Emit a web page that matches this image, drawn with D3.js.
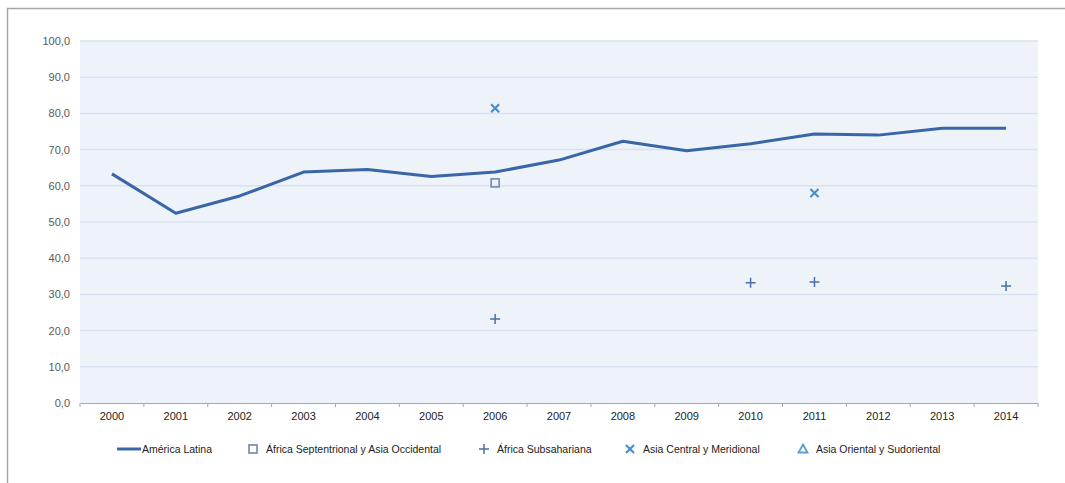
<!DOCTYPE html>
<html>
<head>
<meta charset="utf-8">
<script src="https://cdn.jsdelivr.net/npm/d3@7"></script>
<style>
  body { margin: 0; background: #fff; }
  svg text { font-family: "Liberation Sans", Arial, sans-serif; }
</style>
</head>
<body>
<div id="chart"></div>
<script>
//Datos
const years = ['2000','2001','2002','2003','2004','2005','2006','2007','2008','2009','2010','2011','2012','2013','2014'];
const americaLatina = [63.3, 52.4, 57.2, 63.8, 64.5, 62.6, 63.8, 67.1, 72.3, 69.7, 71.6, 74.3, 74.0, 75.9, 75.9];
const africaSeptentrional = [{year: '2006', value: 60.8}];
const africaSubsahariana = [{year: '2006', value: 23.2}, {year: '2010', value: 33.2}, {year: '2011', value: 33.4}, {year: '2014', value: 32.3}];
const asiaCentral = [{year: '2006', value: 81.4}, {year: '2011', value: 58.0}];
const asiaOriental = [];
const yTicks = [0, 10, 20, 30, 40, 50, 60, 70, 80, 90, 100];
const seriesNames = ['América Latina', 'África Septentrional y Asia Occidental', 'África Subsahariana', 'Asia Central y Meridional', 'Asia Oriental y Sudoriental'];

//Colores
const COLOR_LINE = '#3A66A7',
COLOR_SQUARE = '#7E93B5',
COLOR_PLUS = '#4A70AA',
COLOR_X = '#4A8FCB',
COLOR_TRI = '#5A9BD5',
COLOR_BG = '#EEF3FA',
COLOR_GRID = '#D8E2F1',
COLOR_TEXT = '#595959';

const W = 1065, H = 483;
let margin = {top: 41, right: 27, bottom: 80, left: 80},
    width = W - margin.left - margin.right,
    height = H - margin.top - margin.bottom;

let root = d3.select('#chart').append('svg')
    .attr('width', W)
    .attr('height', H);

//Borde exterior
root.append('path')
    .attr('d', 'M7.5,' + H + 'V8.5H' + W)
    .attr('fill', 'none')
    .attr('stroke', '#A6A6A6')
    .attr('stroke-width', 1.5);

let svg = root.append('g')
    .attr('transform', 'translate(' + margin.left + ',' + margin.top + ')');

let x = d3.scaleBand().domain(years).range([0, width]);
let y = d3.scaleLinear().domain([0, 100]).range([height, 0]);

svg.append('rect')
    .attr('width', width)
    .attr('height', height)
    .attr('fill', COLOR_BG);

//Rejilla
svg.append('g')
    .selectAll('line')
    .data(yTicks.filter(d => d > 0))
    .enter()
    .append('line')
    .attr('x1', 0).attr('x2', width)
    .attr('y1', d => y(d)).attr('y2', d => y(d))
    .attr('stroke', COLOR_GRID)
    .attr('stroke-width', 1.5);

//Eje Y
let yAxis = svg.append('g')
    .call(d3.axisLeft(y).tickValues(yTicks).tickSize(0).tickPadding(10).tickFormat(d => d3.format('.1f')(d).replace('.', ',')));
yAxis.select('.domain').remove();
yAxis.selectAll('text').attr('fill', COLOR_TEXT).style('font-size', '11px');

//Eje X
let xAxis = svg.append('g')
    .attr('transform', 'translate(0,' + height + ')')
    .call(d3.axisBottom(x).tickSize(0).tickPadding(9));
xAxis.select('.domain').attr('stroke', '#A6A6A6');
xAxis.selectAll('text').attr('fill', '#222').style('font-size', '11px');
svg.append('g')
    .selectAll('line')
    .data(years.concat(['end']))
    .enter()
    .append('line')
    .attr('x1', (d, i) => i * x.step()).attr('x2', (d, i) => i * x.step())
    .attr('y1', height).attr('y2', height + 4)
    .attr('stroke', '#A6A6A6');

let cx = d => x(d) + x.bandwidth() / 2;

//Línea América Latina
let line = d3.line()
    .x((d, i) => cx(years[i]))
    .y(d => y(d));

svg.append('path')
    .datum(americaLatina)
    .attr('d', line)
    .attr('fill', 'none')
    .attr('stroke', COLOR_LINE)
    .attr('stroke-width', 3)
    .attr('stroke-linejoin', 'round');

//Marcadores
function drawMarker(g, type, color) {
    if (type == 'square') {
        g.append('rect').attr('x', -4).attr('y', -4).attr('width', 8).attr('height', 8)
            .attr('fill', 'none').attr('stroke', color).attr('stroke-width', 1.8);
    } else if (type == 'plus') {
        g.append('path').attr('d', 'M-5,0H5M0,-5V5').attr('stroke', color).attr('stroke-width', 1.5);
    } else if (type == 'x') {
        g.append('path').attr('d', 'M-4,-4L4,4M-4,4L4,-4').attr('stroke', color).attr('stroke-width', 2.2);
    } else if (type == 'tri') {
        g.append('path').attr('d', 'M0,-4.5L4.5,3.5H-4.5Z').attr('fill', 'none').attr('stroke', color).attr('stroke-width', 1.8);
    }
}

function drawSeries(data, type, color) {
    svg.append('g')
        .selectAll('g')
        .data(data)
        .enter()
        .append('g')
        .attr('transform', d => 'translate(' + cx(d.year) + ',' + y(d.value) + ')')
        .each(function() { drawMarker(d3.select(this), type, color); });
}

drawSeries(africaSeptentrional, 'square', COLOR_SQUARE);
drawSeries(africaSubsahariana, 'plus', COLOR_PLUS);
drawSeries(asiaCentral, 'x', COLOR_X);
drawSeries(asiaOriental, 'tri', COLOR_TRI);

//Leyenda
const legendX = [117, 253, 484, 630, 803];
const legendTypes = ['line', 'square', 'plus', 'x', 'tri'];
const legendColors = [COLOR_LINE, COLOR_SQUARE, COLOR_PLUS, COLOR_X, COLOR_TRI];
let legend = root.append('g').attr('transform', 'translate(0,449)');
seriesNames.forEach(function(name, i) {
    let g = legend.append('g').attr('transform', 'translate(' + legendX[i] + ',0)');
    let tx;
    if (legendTypes[i] == 'line') {
        g.append('line').attr('x1', 0).attr('x2', 24).attr('y1', 0).attr('y2', 0)
            .attr('stroke', COLOR_LINE).attr('stroke-width', 3);
        tx = 25;
    } else {
        drawMarker(g, legendTypes[i], legendColors[i]);
        tx = 13;
    }
    g.append('text')
        .attr('x', tx).attr('y', 4)
        .attr('fill', '#222')
        .style('font-size', '10.5px')
        .text(name);
});
</script>
</body>
</html>
